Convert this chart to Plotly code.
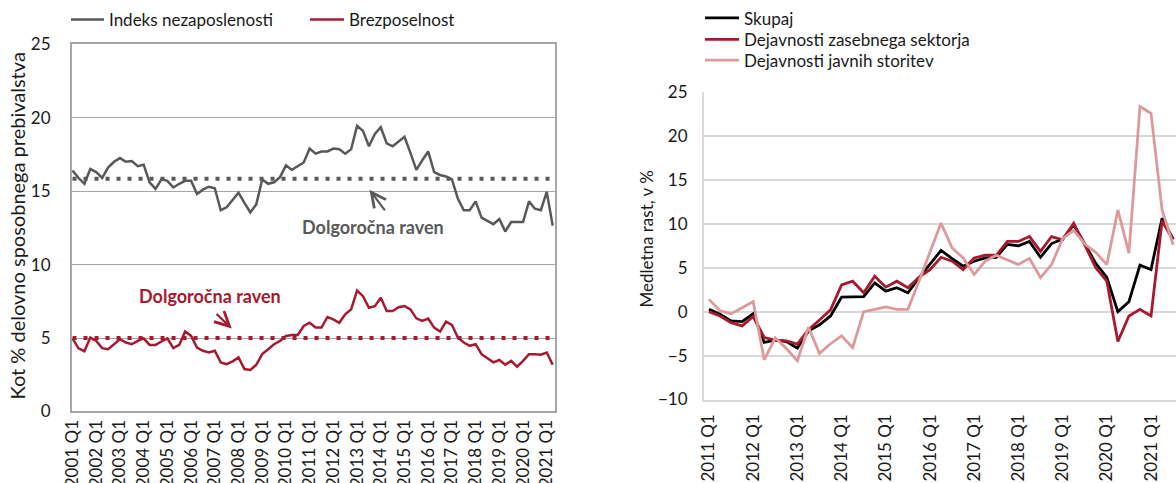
import plotly.graph_objects as go

# ---------------- data ----------------
left_years = list(range(2001, 2022))
left_quarters = [f"{y} Q{q}" for y in left_years for q in (1, 2, 3, 4)][:82]
left_ticks = [f"{y} Q1" for y in left_years]

indeks_nezaposlenosti = [
    16.4, 15.9, 15.5, 16.5, 16.3, 15.9, 16.6, 17.0, 17.25, 17.0,
    17.05, 16.7, 16.8, 15.6, 15.15, 15.8, 15.7, 15.25, 15.5, 15.7,
    15.7, 14.8, 15.1, 15.3, 15.2, 13.7, 13.9, 14.4, 14.9, 14.2,
    13.55, 14.1, 15.8, 15.5, 15.6, 15.95, 16.75, 16.45, 16.7, 16.95,
    17.9, 17.55, 17.7, 17.7, 17.9, 17.85, 17.55, 17.85, 19.45, 19.1,
    18.05, 18.9, 19.35, 18.25, 18.05, 18.4, 18.7, 17.6, 16.45, 17.1,
    17.7, 16.3, 16.1, 16.0, 15.8, 14.5, 13.7, 13.7, 14.3, 13.2,
    12.95, 12.75, 13.1, 12.25, 12.9, 12.9, 12.9, 14.3, 13.8, 13.7,
    14.95, 12.65,
]
brezposelnost = [
    4.98, 4.3, 4.1, 5.03, 4.8, 4.31, 4.24, 4.58, 4.92, 4.69,
    4.58, 4.8, 4.98, 4.53, 4.53, 4.76, 4.98, 4.31, 4.53, 5.44,
    5.14, 4.35, 4.13, 4.01, 4.13, 3.34, 3.22, 3.41, 3.68, 2.89,
    2.82, 3.18, 3.9, 4.24, 4.58, 4.8, 5.14, 5.21, 5.21, 5.82,
    6.04, 5.71, 5.71, 6.43, 6.27, 6.04, 6.61, 6.95, 8.23, 7.85,
    7.06, 7.17, 7.74, 6.83, 6.83, 7.1, 7.17, 6.95, 6.34, 6.16,
    6.32, 5.71, 5.44, 6.11, 5.89, 5.03, 4.69, 4.47, 4.58, 3.9,
    3.63, 3.34, 3.5, 3.18, 3.45, 3.05, 3.45, 3.9, 3.9, 3.86,
    4.01, 3.18,
]
dolgorocna_indeks = 15.85
dolgorocna_brezposelnost = 5.0

right_years = list(range(2011, 2022))
right_quarters = [f"{y} Q{q}" for y in right_years for q in (1, 2, 3, 4)][:43]
right_ticks = [f"{y} Q1" for y in right_years]

skupaj = [
    0.26, -0.3, -1.06, -1.13, -0.23, -3.5, -3.25, -3.4, -4.15, -2.19,
    -1.5, -0.49, 1.66, 1.66, 1.7, 3.28, 2.34, 2.72, 2.15, 3.85,
    5.36, 6.98, 6.04, 5.17, 5.74, 6.11, 6.19, 7.65, 7.5, 8.0,
    6.19, 7.75, 8.25, 9.9, 7.7, 5.5, 3.9, 0.0, 1.13, 5.3,
    4.8, 10.63, 8.25,
]
zasebni_sektor = [
    0.0, -0.49, -1.25, -1.62, -0.55, -2.94, -3.25, -3.32, -3.7, -2.05,
    -0.95, 0.2, 3.05, 3.47, 2.15, 4.04, 2.79, 3.47, 2.72, 3.92,
    4.79, 6.19, 5.74, 4.79, 6.11, 6.42, 6.42, 7.99, 7.99, 8.55,
    6.86, 8.55, 8.18, 10.06, 7.61, 5.0, 3.47, -3.39, -0.49, 0.27,
    -0.49, 10.32, 8.18,
]
javne_storitve = [
    1.4, 0.1, -0.23, 0.45, 1.13, -5.48, -2.98, -4.2, -5.6, -1.77,
    -4.75, -3.65, -2.75, -4.1, 0.0, 0.26, 0.53, 0.26, 0.26, 3.47,
    6.68, 10.08, 7.25, 6.11, 4.23, 5.74, 6.42, 5.92, 5.36, 6.07,
    3.88, 5.36, 8.3, 9.25, 7.7, 6.75, 5.36, 11.58, 6.67, 23.36,
    22.56, 11.57, 7.61,
]

# ---------------- styles ----------------
W, H = 1176, 483
GRAY = "#595959"
RED = "#A6192E"
PINK = "#DE9A9A"
BLACK = "#000000"
TXT = "#1a1a1a"
FONT = "Lato"


def px_x(p):
    return p / W


def px_y(p):
    return 1 - p / H


fig = go.Figure()

# left panel
fig.add_trace(go.Scatter(x=left_quarters, y=indeks_nezaposlenosti, mode="lines",
                         name="Indeks nezaposlenosti", line=dict(color=GRAY, width=2.5),
                         xaxis="x", yaxis="y", legend="legend"))
fig.add_trace(go.Scatter(x=left_quarters, y=brezposelnost, mode="lines",
                         name="Brezposelnost", line=dict(color=RED, width=2.5),
                         xaxis="x", yaxis="y", legend="legend2"))
fig.add_trace(go.Scatter(x=left_quarters, y=[dolgorocna_indeks] * len(left_quarters), mode="lines",
                         line=dict(color=GRAY, width=4, dash="4px,7px"), showlegend=False,
                         hoverinfo="skip", xaxis="x", yaxis="y"))
fig.add_trace(go.Scatter(x=left_quarters, y=[dolgorocna_brezposelnost] * len(left_quarters), mode="lines",
                         line=dict(color=RED, width=4, dash="4px,7px"), showlegend=False,
                         hoverinfo="skip", xaxis="x", yaxis="y"))

# right panel
fig.add_trace(go.Scatter(x=right_quarters, y=skupaj, mode="lines", name="Skupaj",
                         line=dict(color=BLACK, width=2.8), xaxis="x2", yaxis="y2",
                         legend="legend3"))
fig.add_trace(go.Scatter(x=right_quarters, y=zasebni_sektor, mode="lines",
                         name="Dejavnosti zasebnega sektorja", line=dict(color=RED, width=2.8),
                         xaxis="x2", yaxis="y2", legend="legend4"))
fig.add_trace(go.Scatter(x=right_quarters, y=javne_storitve, mode="lines",
                         name="Dejavnosti javnih storitev", line=dict(color=PINK, width=2.8),
                         xaxis="x2", yaxis="y2", legend="legend5"))

tickfont = dict(family=FONT, size=17, color=TXT)
legfont = dict(family=FONT, size=17, color=TXT)


def leg(xp, yp, iw):
    return dict(orientation="v", x=px_x(xp), y=px_y(yp), xref="paper", yref="paper",
                xanchor="left", yanchor="middle", font=legfont, itemwidth=iw,
                bgcolor="rgba(0,0,0,0)", borderwidth=0)


fig.update_layout(
    template="none",
    width=W, height=H,
    margin=dict(l=0, r=0, t=0, b=0, pad=0),
    paper_bgcolor="white", plot_bgcolor="white",
    font=dict(family=FONT, size=17, color=TXT),
    showlegend=True,
    xaxis=dict(domain=[px_x(71.7), px_x(555)], type="category", range=[-0.14, 81.39],
               tickmode="array", tickvals=left_ticks, ticktext=left_ticks, tickangle=-90,
               tickfont=tickfont, showgrid=False, zeroline=False, automargin=False,
               showline=True, mirror=True, linecolor="#A6A6A6", linewidth=1.5,
               ticks="", anchor="y"),
    yaxis=dict(domain=[px_y(411), px_y(41.5)], range=[0, 25], dtick=5, automargin=False,
               tickfont=tickfont, showgrid=True, gridcolor="#A6A6A6", gridwidth=1.2,
               zeroline=False, showline=True, mirror=True, linecolor="#A6A6A6", linewidth=1.5,
               ticks="outside", ticklen=16, tickcolor="rgba(0,0,0,0)", anchor="x"),
    xaxis2=dict(domain=[px_x(704), 1.0], type="category", range=[-0.45, 42.26],
                tickmode="array", tickvals=right_ticks, ticktext=right_ticks, tickangle=-90,
                tickfont=tickfont, showgrid=False, zeroline=False, automargin=False,
                showline=True, linecolor="#D9D9D9", linewidth=2,
                ticks="outside", ticklen=6, tickcolor="rgba(0,0,0,0)", anchor="y2"),
    yaxis2=dict(domain=[px_y(399), px_y(89.3)], range=[-10, 25.03], dtick=5, automargin=False,
                tickfont=tickfont, showgrid=True, gridcolor="#D9D9D9", gridwidth=1.5,
                zeroline=False, showline=True, linecolor="#D9D9D9", linewidth=2,
                ticks="outside", ticklen=11, tickcolor="rgba(0,0,0,0)", anchor="x2"),
    legend=leg(66, 17, 33),
    legend2=leg(305, 17, 34),
    legend3=leg(700, 15.5, 34),
    legend4=leg(700, 37, 34),
    legend5=leg(700, 58, 34),
)

annotations = [
    dict(text="<b>Dolgoročna raven</b>", x=50.7, y=12.58, xref="x", yref="y", showarrow=False,
         font=dict(family=FONT, size=18, color=GRAY)),
    dict(text="", x=50.1, y=15.09, xref="x", yref="y", showarrow=True, ax=16.5, ay=22,
         arrowhead=5, arrowsize=1.3, arrowwidth=2.2, arrowcolor=GRAY),
    dict(text="<b>Dolgoročna raven</b>", x=23.2, y=7.85, xref="x", yref="y", showarrow=False,
         font=dict(family=FONT, size=18, color=RED)),
    dict(text="", x=26.86, y=5.64, xref="x", yref="y", showarrow=True, ax=-16.7, ay=-16,
         arrowhead=5, arrowsize=1.3, arrowwidth=2.2, arrowcolor=RED),
    dict(text="Kot % delovno sposobnega prebivalstva", x=px_x(17), y=px_y(225), xref="paper",
         yref="paper", xanchor="center", yanchor="middle", showarrow=False, textangle=-90,
         font=dict(family=FONT, size=20, color=TXT)),
    dict(text="Medletna rast, v %", x=px_x(647), y=px_y(238), xref="paper", yref="paper",
         xanchor="center", yanchor="middle", showarrow=False, textangle=-90,
         font=dict(family=FONT, size=17, color=TXT)),
]
fig.update_layout(annotations=annotations)

fig.write_html("out.html", config={"displayModeBar": False},
               post_script="document.body.style.margin='0';document.body.style.overflow='hidden';")
